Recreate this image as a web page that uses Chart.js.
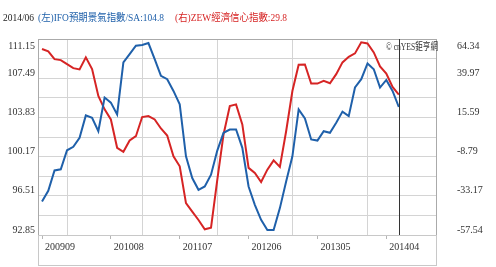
<!DOCTYPE html>
<html lang="zh-Hant">
<head>
<meta charset="UTF-8">
<title>IFO / ZEW</title>
<script src="https://cdn.jsdelivr.net/npm/chart.js"></script>
<style>
  html, body { margin: 0; padding: 0; background: #fff; }
  #wrap { width: 496px; height: 267px; position: relative; }
</style>
</head>
<body>
<div id="wrap"><canvas id="grafico" width="496" height="267"></canvas></div>

<script>
// months 2009/09 .. 2014/06
const months = [
  '200909','200910','200911','200912','201001','201002','201003','201004','201005','201006','201007','201008',
  '201009','201010','201011','201012','201101','201102','201103','201104','201105','201106','201107','201108',
  '201109','201110','201111','201112','201201','201202','201203','201204','201205','201206','201207','201208',
  '201209','201210','201211','201212','201301','201302','201303','201304','201305','201306','201307','201308',
  '201309','201310','201311','201312','201401','201402','201403','201404','201405','201406'
]

// (左) IFO 預期景氣指數
const ifo = [
  95.98, 96.98, 98.88, 98.98, 100.76, 101.08, 101.93, 104.02, 103.80, 102.54, 105.68, 105.21,
  104.11, 108.96, 109.74, 110.52, 110.59, 110.77, 109.27, 107.71, 107.40, 106.30, 105.05, 100.20,
  98.17, 97.07, 97.38, 98.48, 100.73, 102.39, 102.70, 102.70, 100.99, 97.38, 95.67, 94.26,
  93.32, 93.32, 95.36, 97.85, 100.20, 104.58, 103.74, 101.77, 101.67, 102.54, 102.39, 103.33,
  104.37, 103.95, 106.62, 107.40, 108.87, 108.33, 106.62, 107.33, 106.30, 104.8
]

// (右) ZEW 經濟信心指數
const zew = [
  58.1, 56.7, 51.8, 51.2, 48.7, 46.2, 45.4, 52.9, 45.6, 28.9, 20.6, 14.3,
  -3.3, -5.8, 1.2, 3.9, 15.8, 16.4, 14.3, 8.7, 4.3, -8.6, -14.8, -37.7,
  -43.0, -48.2, -54.0, -53.0, -23.2, 5.0, 22.6, 23.7, 11.2, -15.8, -19.0, -24.6,
  -16.9, -11.1, -15.2, 7.0, 32.0, 48.3, 48.5, 36.6, 36.6, 38.3, 36.8, 42.5,
  49.8, 53.3, 55.4, 62.3, 61.6, 56.0, 47.3, 42.9, 34.5, 29.8
]

const leftTicks = ['92.85', '96.51', '100.17', '103.83', '107.49', '111.15']
const rightTicks = ['-57.54', '-33.17', '-8.79', '15.59', '39.97', '64.34']
const xTickIdx = [0, 11, 22, 33, 44, 55]
const janIdx = [4, 16, 28, 40, 52]

const azul = '#1f60aa'
const vermelho = '#d62424'
const fonte = '"Liberation Serif", "Noto Sans CJK TC", serif'

// texts and frames around the plot
const moldura = {
  id: 'moldura',
  beforeDatasetsDraw(chart) {
    const ctx = chart.ctx
    const a = chart.chartArea
    ctx.save()
    ctx.strokeStyle = '#aaaaaa'
    ctx.lineWidth = 1
    ctx.strokeRect(a.left + 0.5, a.top + 0.5, a.right - a.left - 1, a.bottom - a.top)
    ctx.strokeStyle = '#c8c8c8'
    ctx.strokeRect(a.left + 0.5, a.bottom + 0.5, a.right - a.left - 1, 30)
    ctx.restore()
  },
  afterDatasetsDraw(chart) {
    const ctx = chart.ctx
    const a = chart.chartArea
    const xLast = chart.scales.x.getPixelForValue(months.length - 1)
    ctx.save()
    ctx.strokeStyle = '#333'
    ctx.lineWidth = 1
    ctx.beginPath()
    ctx.moveTo(Math.round(xLast) + 0.5, a.top)
    ctx.lineTo(Math.round(xLast) + 0.5, a.bottom)
    ctx.stroke()

    ctx.textBaseline = 'middle'
    ctx.font = '10.5px ' + fonte
    ctx.fillStyle = '#222'
    ctx.fillText('2014/06', 3, 18, 31)
    ctx.fillStyle = azul
    ctx.fillText('(左)IFO預期景氣指數/SA:' + ifo[ifo.length - 1].toFixed(1), 38, 18, 126)
    ctx.fillStyle = vermelho
    ctx.fillText('(右)ZEW經濟信心指數:' + zew[zew.length - 1].toFixed(1), 175, 18, 112)

    ctx.font = '10px ' + fonte
    ctx.fillStyle = '#333'
    ctx.textAlign = 'right'
    ctx.fillText('© cnYES鉅亨網', a.right + 1, 47, 52)
    ctx.restore()
  }
}

const grafico = document.getElementById('grafico')

new Chart(grafico, {
  type: 'line',
  data: {
    datasets: [
      {
        label: 'IFO',
        data: ifo.map((v, i) => ({ x: i, y: v })),
        borderColor: azul,
        borderWidth: 2,
        pointRadius: 0,
        tension: 0,
        yAxisID: 'y'
      },
      {
        label: 'ZEW',
        data: zew.map((v, i) => ({ x: i, y: v })),
        borderColor: vermelho,
        borderWidth: 2,
        pointRadius: 0,
        tension: 0,
        yAxisID: 'y2'
      }
    ]
  },
  options: {
    responsive: false,
    animation: false,
    events: [],
    layout: { padding: { top: 39, left: 0, right: 0, bottom: 0 } },
    plugins: { legend: { display: false }, tooltip: { enabled: false } },
    scales: {
      x: {
        type: 'linear',
        position: 'bottom',
        min: -0.64,
        max: 63.1,
        afterBuildTicks: (s) => { s.ticks = xTickIdx.map(v => ({ value: v })) },
        afterFit: (s) => { s.height = 32 },
        grid: { drawOnChartArea: false, tickLength: 4, color: '#b5b5b5' },
        border: { display: false },
        ticks: {
          autoSkip: false,
          maxRotation: 0,
          align: 'start',
          labelOffset: 3,
          padding: 2,
          color: '#333',
          font: { family: fonte, size: 10 },
          callback: (v) => months[v]
        }
      },
      xg: {
        type: 'linear',
        position: 'bottom',
        min: -0.64,
        max: 63.1,
        afterBuildTicks: (s) => { s.ticks = janIdx.map(v => ({ value: v })) },
        afterFit: (s) => { s.height = 0 },
        grid: { drawTicks: false, color: '#d4d4d4' },
        border: { display: false },
        ticks: { display: false }
      },
      y: {
        position: 'left',
        min: 92.85,
        max: 111.15,
        afterBuildTicks: (s) => {
          const t = []
          for (let k = 0; k <= 10; k++) t.push({ value: 92.85 + k * 1.83 })
          s.ticks = t
        },
        afterFit: (s) => { s.width = 38 },
        grid: { drawTicks: false, color: '#d4d4d4' },
        border: { display: false },
        ticks: {
          autoSkip: false,
          padding: 3,
          labelOffset: -5,
          color: '#333',
          font: { family: fonte, size: 10, lineHeight: 1.2 },
          callback: (v, i) => {
            if (i % 2) return ''
            if (i === 10) return ['', '', leftTicks[5]]
            return leftTicks[i / 2]
          }
        }
      },
      y2: {
        position: 'right',
        min: -57.54,
        max: 64.34,
        afterBuildTicks: (s) => {
          const t = []
          for (let k = 0; k <= 5; k++) t.push({ value: -57.54 + k * 24.376 })
          s.ticks = t
        },
        afterFit: (s) => { s.width = 59 },
        grid: { drawOnChartArea: false, drawTicks: false },
        border: { display: false },
        ticks: {
          autoSkip: false,
          padding: 20,
          labelOffset: -5,
          color: '#333',
          font: { family: fonte, size: 10, lineHeight: 1.2 },
          callback: (v, i) => (i === 5 ? ['', '', rightTicks[5]] : rightTicks[i])
        }
      }
    }
  },
  plugins: [moldura]
})
</script>
</body>
</html>
